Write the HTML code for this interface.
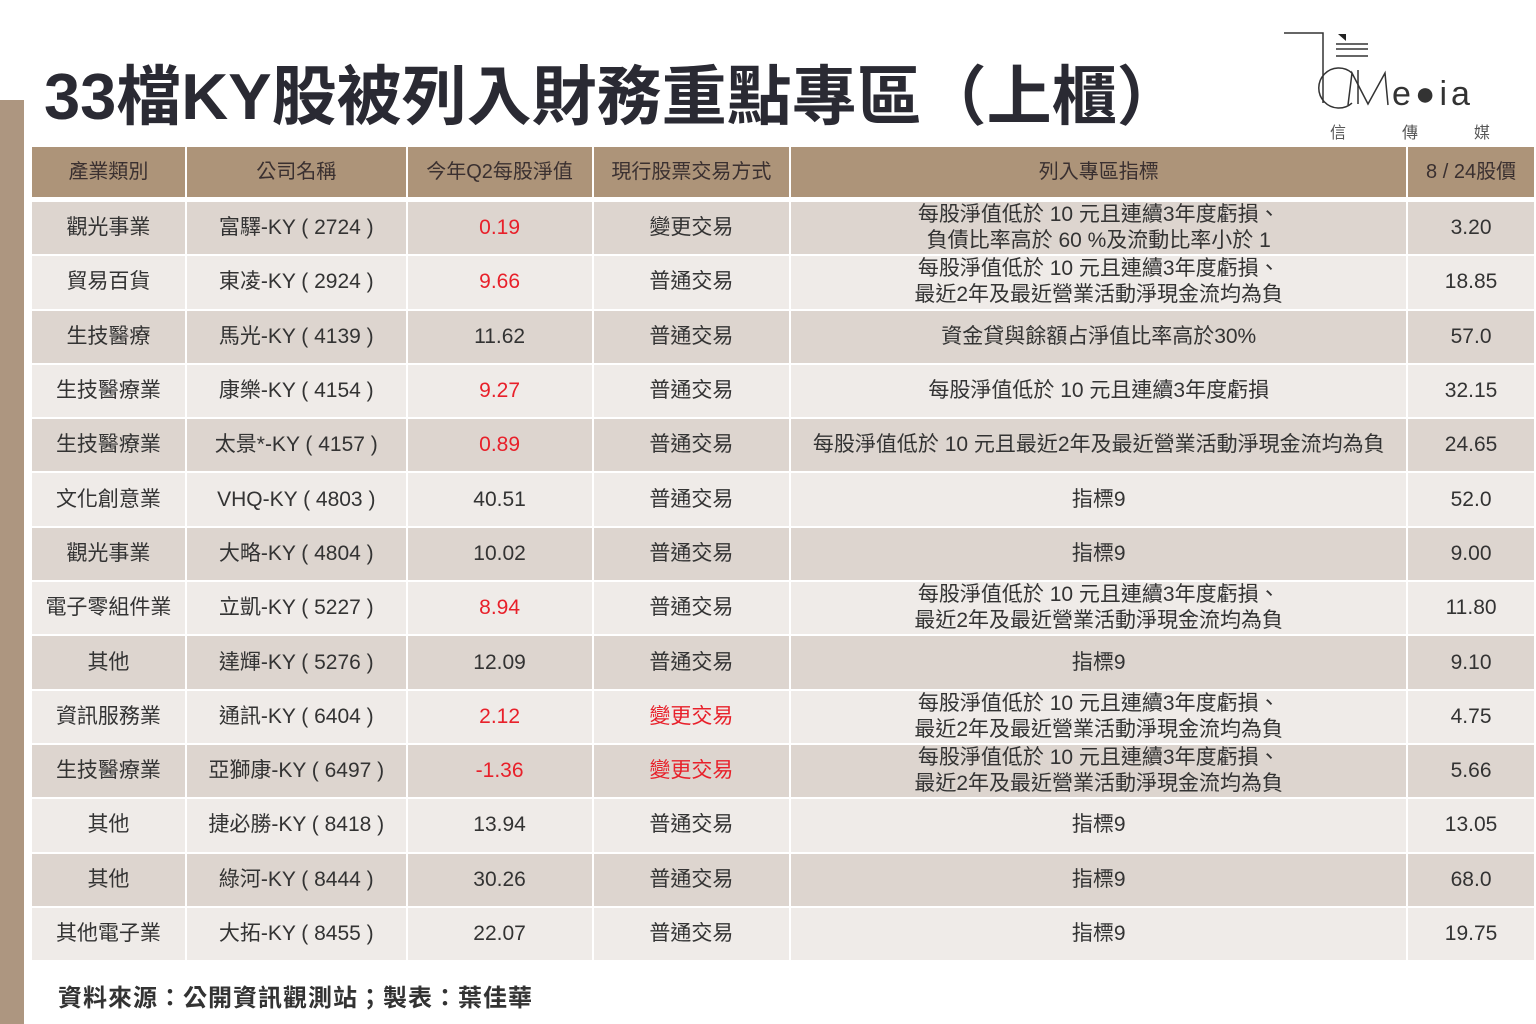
<!DOCTYPE html>
<html><head><meta charset="utf-8">
<style>
body{margin:0;width:1536px;height:1024px;background:#fff;position:relative;overflow:hidden;font-family:"Liberation Sans","Noto Sans CJK TC",sans-serif;color:#333;}
.bar{position:absolute;left:0;top:100px;width:24px;height:924px;background:#ad9680;}
.title{position:absolute;left:44px;top:52px;font-size:65px;font-weight:bold;color:#2a2a33;white-space:nowrap;letter-spacing:0px;line-height:90px;}
table{position:absolute;left:30px;top:145px;border-collapse:collapse;table-layout:fixed;}
td,th{border:2px solid #fff;text-align:center;padding:0;font-size:21px;line-height:26px;white-space:nowrap;overflow:hidden;}
th{background:#ad9479;color:#3a3030;font-weight:normal;height:50px;border-bottom:5px solid #fff;font-size:20px;}
tr:nth-child(even) td{background:#ddd5cf;}
tr:nth-child(odd) td{background:#efebe8;}
td{height:52.3px;}
.r{color:#e8202a;}
.src{position:absolute;left:58px;top:978px;font-size:24px;font-weight:bold;color:#333;letter-spacing:1px;}
.logo{position:absolute;left:1280px;top:28px;width:240px;height:120px;}
</style></head><body>
<div class="bar"></div>
<div class="title">33檔KY股被列入財務重點專區（上櫃）</div>
<svg class="logo" viewBox="0 0 240 120">
<path d="M4 5 H43 V75" stroke="#333" stroke-width="1.5" fill="none"/>
<path d="M58 6 L66 6 L66 13 Z" fill="#222"/>
<line x1="56" y1="16" x2="88" y2="16" stroke="#333" stroke-width="1.5"/>
<line x1="56" y1="21" x2="88" y2="21" stroke="#333" stroke-width="1.5"/>
<line x1="56" y1="28" x2="88" y2="28" stroke="#333" stroke-width="1.5"/>
<path d="M72 45 A20 20 0 1 0 72 75" stroke="#333" stroke-width="1.5" fill="none"/>
<path d="M68 77 L72 45 L88 76 L105 45 L108 77" stroke="#333" stroke-width="1.5" fill="none"/>
<line x1="78" y1="42" x2="78" y2="76" stroke="#333" stroke-width="1.5"/>
<text x="112" y="77" font-family="Liberation Sans" font-size="34" fill="#333" letter-spacing="4">e●ia</text>
<text x="50" y="110" font-size="16" fill="#555" font-family="Noto Sans CJK TC">信</text>
<text x="122" y="110" font-size="16" fill="#555" font-family="Noto Sans CJK TC">傳</text>
<text x="194" y="110" font-size="16" fill="#555" font-family="Noto Sans CJK TC">媒</text>
</svg>
<table>
<colgroup><col style="width:155px"><col style="width:221px"><col style="width:186px"><col style="width:198px"><col style="width:617px"><col style="width:128px"></colgroup>
<tr><th>產業類別</th><th>公司名稱</th><th>今年Q2每股淨值</th><th>現行股票交易方式</th><th>列入專區指標</th><th>8 / 24股價</th></tr>
<tr><td>觀光事業</td><td>富驛-KY ( 2724 )</td><td class="r">0.19</td><td>變更交易</td><td>每股淨值低於 10 元且連續3年度虧損、<br>負債比率高於 60 %及流動比率小於 1</td><td>3.20</td></tr>
<tr><td>貿易百貨</td><td>東凌-KY ( 2924 )</td><td class="r">9.66</td><td>普通交易</td><td>每股淨值低於 10 元且連續3年度虧損、<br>最近2年及最近營業活動淨現金流均為負</td><td>18.85</td></tr>
<tr><td>生技醫療</td><td>馬光-KY ( 4139 )</td><td>11.62</td><td>普通交易</td><td>資金貸與餘額占淨值比率高於30%</td><td>57.0</td></tr>
<tr><td>生技醫療業</td><td>康樂-KY ( 4154 )</td><td class="r">9.27</td><td>普通交易</td><td>每股淨值低於 10 元且連續3年度虧損</td><td>32.15</td></tr>
<tr><td>生技醫療業</td><td>太景*-KY ( 4157 )</td><td class="r">0.89</td><td>普通交易</td><td>每股淨值低於 10 元且最近2年及最近營業活動淨現金流均為負</td><td>24.65</td></tr>
<tr><td>文化創意業</td><td>VHQ-KY ( 4803 )</td><td>40.51</td><td>普通交易</td><td>指標9</td><td>52.0</td></tr>
<tr><td>觀光事業</td><td>大略-KY ( 4804 )</td><td>10.02</td><td>普通交易</td><td>指標9</td><td>9.00</td></tr>
<tr><td>電子零組件業</td><td>立凱-KY ( 5227 )</td><td class="r">8.94</td><td>普通交易</td><td>每股淨值低於 10 元且連續3年度虧損、<br>最近2年及最近營業活動淨現金流均為負</td><td>11.80</td></tr>
<tr><td>其他</td><td>達輝-KY ( 5276 )</td><td>12.09</td><td>普通交易</td><td>指標9</td><td>9.10</td></tr>
<tr><td>資訊服務業</td><td>通訊-KY ( 6404 )</td><td class="r">2.12</td><td class="r">變更交易</td><td>每股淨值低於 10 元且連續3年度虧損、<br>最近2年及最近營業活動淨現金流均為負</td><td>4.75</td></tr>
<tr><td>生技醫療業</td><td>亞獅康-KY ( 6497 )</td><td class="r">-1.36</td><td class="r">變更交易</td><td>每股淨值低於 10 元且連續3年度虧損、<br>最近2年及最近營業活動淨現金流均為負</td><td>5.66</td></tr>
<tr><td>其他</td><td>捷必勝-KY ( 8418 )</td><td>13.94</td><td>普通交易</td><td>指標9</td><td>13.05</td></tr>
<tr><td>其他</td><td>綠河-KY ( 8444 )</td><td>30.26</td><td>普通交易</td><td>指標9</td><td>68.0</td></tr>
<tr><td>其他電子業</td><td>大拓-KY ( 8455 )</td><td>22.07</td><td>普通交易</td><td>指標9</td><td>19.75</td></tr>
</table>
<div class="src">資料來源：公開資訊觀測站；製表：葉佳華</div>
</body></html>
